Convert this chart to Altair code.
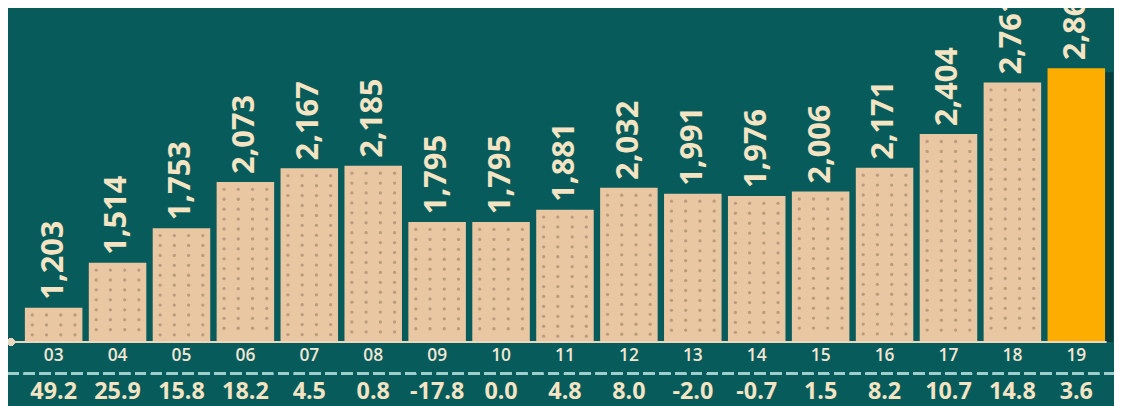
import altair as alt
import pandas as pd

years = ["03", "04", "05", "06", "07", "08", "09", "10", "11", "12",
         "13", "14", "15", "16", "17", "18", "19"]
values = [1203, 1514, 1753, 2073, 2167, 2185, 1795, 1795, 1881, 2032,
          1991, 1976, 2006, 2171, 2404, 2761, 2860]
growth = [49.2, 25.9, 15.8, 18.2, 4.5, 0.8, -17.8, 0.0, 4.8, 8.0,
          -2.0, -0.7, 1.5, 8.2, 10.7, 14.8, 3.6]

BASE = 965
TOP = 3267
HIGHLIGHT = "19"

BG = "#075b5b"
BEIGE = "#e8c7a2"
DOT = "#bc9c7e"
ORANGE = "#fdad00"
LABEL = "#f4e4c4"
FONT = "Open Sans"

df = pd.DataFrame({"year": years, "value": values, "growth": growth})

xenc = alt.X("year:O", sort=years, axis=None,
             scale=alt.Scale(range=[17, 1105], paddingInner=0.1, paddingOuter=0))
yscale = alt.Scale(domain=[BASE, TOP], nice=False, zero=False)
yenc = alt.Y("value:Q", scale=yscale, axis=None)

base = alt.Chart(df).encode(x=xenc)

shadow = base.transform_filter(alt.datum.year == HIGHLIGHT).mark_bar(
    color="#083d3c", xOffset=8, yOffset=4
).encode(y=yenc, y2=alt.datum(BASE))

bars = base.mark_bar().encode(
    y=yenc,
    y2=alt.datum(BASE),
    color=alt.when(alt.datum.year == HIGHLIGHT).then(alt.value(ORANGE)).otherwise(alt.value(BEIGE)),
)

dot_src = base.transform_filter(alt.datum.year != HIGHLIGHT).transform_calculate(
    dot=f"sequence(datum.value - 51, {BASE + 40}, -68.7)"
).transform_flatten(["dot"])

dot_layers = [
    dot_src.mark_circle(size=11, color=DOT, opacity=1, xOffset=off).encode(
        y=alt.Y("dot:Q", scale=yscale, axis=None)
    )
    for off in (-21.5, -7.2, 7.2, 21.5)
]

value_labels = base.mark_text(
    angle=270, align="left", baseline="middle", dx=8,
    font=FONT, fontSize=31, fontWeight="bold", color=LABEL
).encode(y=yenc, text=alt.Text("value:Q", format=","))

baseline = alt.Chart(df).mark_rule(color="#e9d8bf", strokeWidth=2).encode(
    x=alt.value(3), x2=alt.value(1106), y=alt.value(335)
)
base_dot = alt.Chart(df).mark_circle(color="#e9d8bf", size=50, opacity=1).encode(
    x=alt.value(3), y=alt.value(335)
)

year_labels = base.mark_text(
    font=FONT, fontSize=17.5, fontWeight=600, color="#f1e6d4", baseline="middle"
).encode(y=alt.value(349), text="year:O")

dash = alt.Chart(df).mark_rule(color="#9fcfcd", strokeWidth=2.5, strokeDash=[11, 5]).encode(
    x=alt.value(0), x2=alt.value(1114), y=alt.value(367)
)

growth_labels = base.transform_calculate(
    glabel="replace(format(datum.growth, '.1f'), '\u2212', '-')"
).mark_text(
    font=FONT, fontSize=23.5, fontWeight="bold", color=LABEL, baseline="middle"
).encode(y=alt.value(385.5), text="glabel:N")

chart = alt.layer(
    shadow, bars, *dot_layers, baseline, base_dot, value_labels, year_labels, dash, growth_labels
).properties(
    width=1114, height=335,
    autosize="none",
    padding={"left": 0, "top": 0, "right": 0, "bottom": 63},
    background=BG,
).configure_view(stroke=None)

chart.save("out.html", embed_options={"renderer": "svg", "actions": False})
